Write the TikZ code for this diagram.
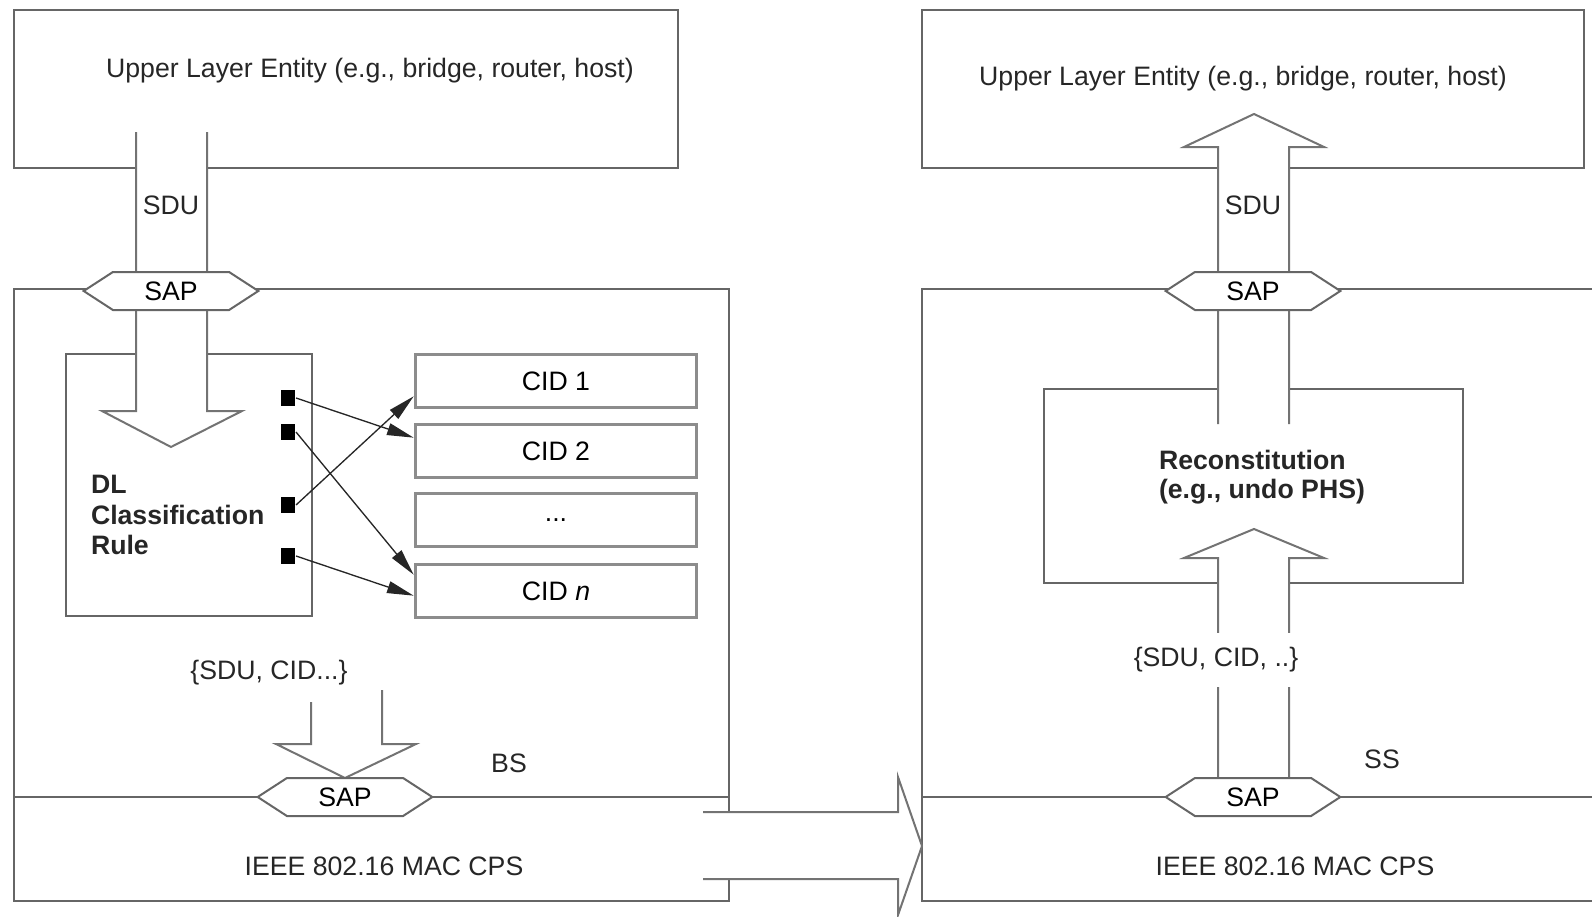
\documentclass[tikz,border=0pt]{standalone}
\usepackage{fontspec}
\setmainfont{Liberation Sans}
\usetikzlibrary{shapes.symbols,arrows.meta,calc}

\newcommand\labelfont{\fontsize{20}{23}\selectfont}

\tikzset{every picture/.style={line width=1.5pt}}
\tikzset{
  frame/.style={draw=black!60},
  hollow/.style={draw=black!55, fill=white},
  sapbox/.style={shape=signal, signal to=east and west, signal pointer angle=66, draw=black!60, fill=white, minimum width=131pt, minimum height=28.5pt, inner sep=0pt},
  cidbox/.style={draw=black!45, line width=2.5pt, minimum width=211pt, minimum height=40pt, inner sep=0pt},
  sq/.style={fill=black, minimum width=10.5pt, minimum height=12.5pt, inner sep=0pt},
  link/.style={draw=black!85, line width=1pt, -{Triangle[length=20pt,width=9pt]}},
  lbl/.style={inner sep=0.75pt, text=black!85},
}

\begin{document}
\begin{tikzpicture}[x=0.75pt,y=0.75pt,yscale=-1,xscale=1,font=\labelfont]
\clip (0,0) rectangle (1592,917);

%BS side
\draw[frame] (14,10) rectangle (678,168);
\draw[frame] (14,289) rectangle (729,901);
\draw[frame] (14,797) -- (729,797);
\draw[frame] (66,354) rectangle (312,616);

%SS side
\draw[frame] (922,10) rectangle (1584,168);
\draw[frame] (922,289) rectangle (1620,901);
\draw[frame] (922,797) -- (1620,797);
\draw[frame] (1044,389) rectangle (1463,583);

%Shape: hollow arrows
\draw[hollow] (136,132) -- (136,411) -- (102,411) -- (171,447) -- (242,411) -- (207,411) -- (207,132);
\draw[hollow] (311,702) -- (311,744) -- (276,744) -- (345,778) -- (416,744) -- (382,744) -- (382,690);
\draw[hollow] (1218,424) -- (1218,147) -- (1184,147) -- (1254,114) -- (1324,147) -- (1289,147) -- (1289,424);
\draw[hollow] (1218,782) -- (1218,558) -- (1184,558) -- (1254,529) -- (1324,558) -- (1289,558) -- (1289,782);
\draw[hollow] (703,812) -- (898,812) -- (898,777) -- (922,846) -- (898,915) -- (898,879) -- (703,879);

%SAPs
\node[sapbox] (sapA) at (171,291) {SAP};
\node[sapbox] (sapB) at (345,797) {SAP};
\node[sapbox] (sapC) at (1253,291) {SAP};
\node[sapbox] (sapD) at (1253,797) {SAP};

%CIDs
\node[cidbox] (cid1) at (556,381) {CID 1};
\node[cidbox] (cid2) at (556,451) {CID 2};
\node[cidbox] (cid3) at (556,520) {...};
\node[cidbox] (cidn) at (556,591) {CID \textit{n}};

%classifier outputs
\node[sq] (q1) at (288,398) {};
\node[sq] (q2) at (288,432) {};
\node[sq] (q3) at (288,505) {};
\node[sq] (q4) at (288,556) {};

\draw[link] (q1.east) -- ($(cid2.north west)+(0,15)$);
\draw[link] (q2.east) -- ($(cidn.north west)+(0,12)$);
\draw[link] (q3.east) -- ($(cid1.south west)+(0,-13)$);
\draw[link] (q4.east) -- ($(cidn.north west)+(0,33)$);

%labels
\node[lbl] (uleA) at (370,71) {Upper Layer Entity (e.g., bridge, router, host)};
\node[lbl] (uleB) at (1243,79) {Upper Layer Entity (e.g., bridge, router, host)};
\node[lbl] (sduA) at (171,205) {SDU};
\node[lbl] (sduB) at (1253,205) {SDU};
\node[lbl, anchor=west, align=left, font=\labelfont\bfseries] (dlc) at (89,515) {DL\\Classification\\Rule};
\node[lbl, anchor=west, align=left, font=\fontsize{20}{22}\selectfont\bfseries] (recon) at (1157,477) {Reconstitution\\(e.g., undo PHS)};
\node[lbl] (tupA) at (269,673) {\{SDU, CID...\}};
\node[lbl, fill=white, minimum height=40pt] (tupB) at (1216,660) {\{SDU, CID, ..\}};
\node[lbl] (bs) at (509,763) {BS};
\node[lbl] (ss) at (1382,759) {SS};
\node[lbl] (macA) at (384,866) {IEEE 802.16 MAC CPS};
\node[lbl] (macB) at (1295,866) {IEEE 802.16 MAC CPS};

\end{tikzpicture}
\end{document}
